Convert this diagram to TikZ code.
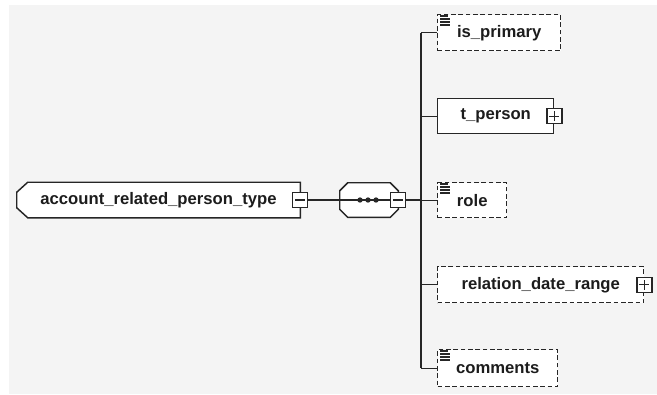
\documentclass[tikz,border=0pt]{standalone}
\usepackage{fontspec}
\setmainfont{Liberation Sans}
\usetikzlibrary{calc}
\definecolor{bgc}{HTML}{F4F4F4}
\definecolor{lc}{HTML}{262626}
\definecolor{tc}{HTML}{1C1C1C}
\pgfdeclarelayer{bg}\pgfdeclarelayer{mid}
\pgfsetlayers{bg,mid,main}
\begin{document}
\begin{tikzpicture}[x=0.75pt,y=-0.75pt,
  lnk/.style={draw=lc, line width=1.1pt},
  lbl/.style={font=\fontsize{12.5}{14}\selectfont\bfseries, text=tc, inner sep=0pt},
  elem/.style={lbl, draw=lc, fill=white, line width=1.1pt, anchor=north west},
  opt/.style={elem, dash pattern=on 3.5pt off 2pt},
  tog/.style={draw=lc, fill=white, minimum size=11.25pt, inner sep=0pt, line width=1pt},
  icon/.style={draw=lc, line width=0.9pt},
  pm/.style={draw=lc, line width=1pt},
]
\useasboundingbox (0,0) rectangle (657,394);
\begin{pgfonlayer}{bg}
\fill[bgc] (9,5) rectangle (657,394);
\end{pgfonlayer}

% root element and sequence compositor
\node[lbl, minimum width=212.25pt, minimum height=26.25pt] (main) at (158.5,200) {account\_related\_person\_type};
\node[minimum width=43.5pt, minimum height=25.5pt, inner sep=0pt] (seq) at (369,200) {};

\begin{pgfonlayer}{mid}
\draw[lnk, fill=white] ([xshift=8.25pt]main.north west) -- (main.north east) -- (main.south east) -- ([xshift=8.25pt]main.south west) -- ([yshift=7.5pt]main.south west) -- ([yshift=-7.5pt]main.north west) -- cycle;
\draw[lnk, fill=white] ([xshift=6pt]seq.north west) -- ([xshift=-6pt]seq.north east) -- ([yshift=-6pt]seq.north east) -- ([yshift=6pt]seq.south east) -- ([xshift=-6pt]seq.south east) -- ([xshift=6pt]seq.south west) -- ([yshift=6pt]seq.south west) -- ([yshift=-6pt]seq.north west) -- cycle;
\draw[lnk] (seq.west) -- (seq.east);
\fill[lc] ([xshift=-6.75pt]seq.center) circle (2pt);
\fill[lc] ([xshift=-0.75pt]seq.center) circle (2pt);
\fill[lc] ([xshift=5.25pt]seq.center) circle (2pt);
\end{pgfonlayer}

% child elements
\node[opt, minimum width=92.25pt, minimum height=27pt] (isp) at (437,14) {is\_primary};
\node[elem, minimum width=87pt, minimum height=26.25pt] (tp) at (437,98) {t\_person};
\node[opt, minimum width=51.75pt, minimum height=26.25pt] (role) at (437,182) {role};
\node[opt, minimum width=154.5pt, minimum height=27pt] (rdr) at (437,266) {relation\_date\_range};
\node[opt, minimum width=90pt, minimum height=27.75pt] (com) at (437,349) {comments};

% icons
\foreach \n in {isp,role,com}{
  \draw[icon] ([shift={(3,2)}]\n.north west) -- ([shift={(11,2)}]\n.north west);
  \foreach \k in {5,8,11}
    \draw[icon] ([shift={(3,\k)}]\n.north west) -- ([shift={(13,\k)}]\n.north west);
}

% toggles
\node[tog] (mainm) at (main.east) {};
\draw[pm] ([xshift=-3.75pt]mainm.center) -- ([xshift=3.75pt]mainm.center);
\node[tog] (seqm) at (seq.east) {};
\draw[pm] ([xshift=-3.75pt]seqm.center) -- ([xshift=3.75pt]seqm.center);
\node[tog] (tpp) at (tp.east) {};
\draw[pm] ([xshift=-3.75pt]tpp.center) -- ([xshift=3.75pt]tpp.center);
\draw[pm] ([yshift=-3.75pt]tpp.center) -- ([yshift=3.75pt]tpp.center);
\node[tog] (rdrp) at (rdr.east) {};
\draw[pm] ([xshift=-3.75pt]rdrp.center) -- ([xshift=3.75pt]rdrp.center);
\draw[pm] ([yshift=-3.75pt]rdrp.center) -- ([yshift=3.75pt]rdrp.center);

% connectors
\coordinate (bus) at (421,200);
\draw[lnk] (mainm.east) -- (seq.west);
\draw[lnk] (seqm.east) -- (bus);
\draw[lnk] (isp.west -| bus) -- (com.west -| bus);
\foreach \n in {isp,tp,role,rdr,com}
  \draw[lnk] (\n.west -| bus) -- (\n.west);
\end{tikzpicture}
\end{document}
